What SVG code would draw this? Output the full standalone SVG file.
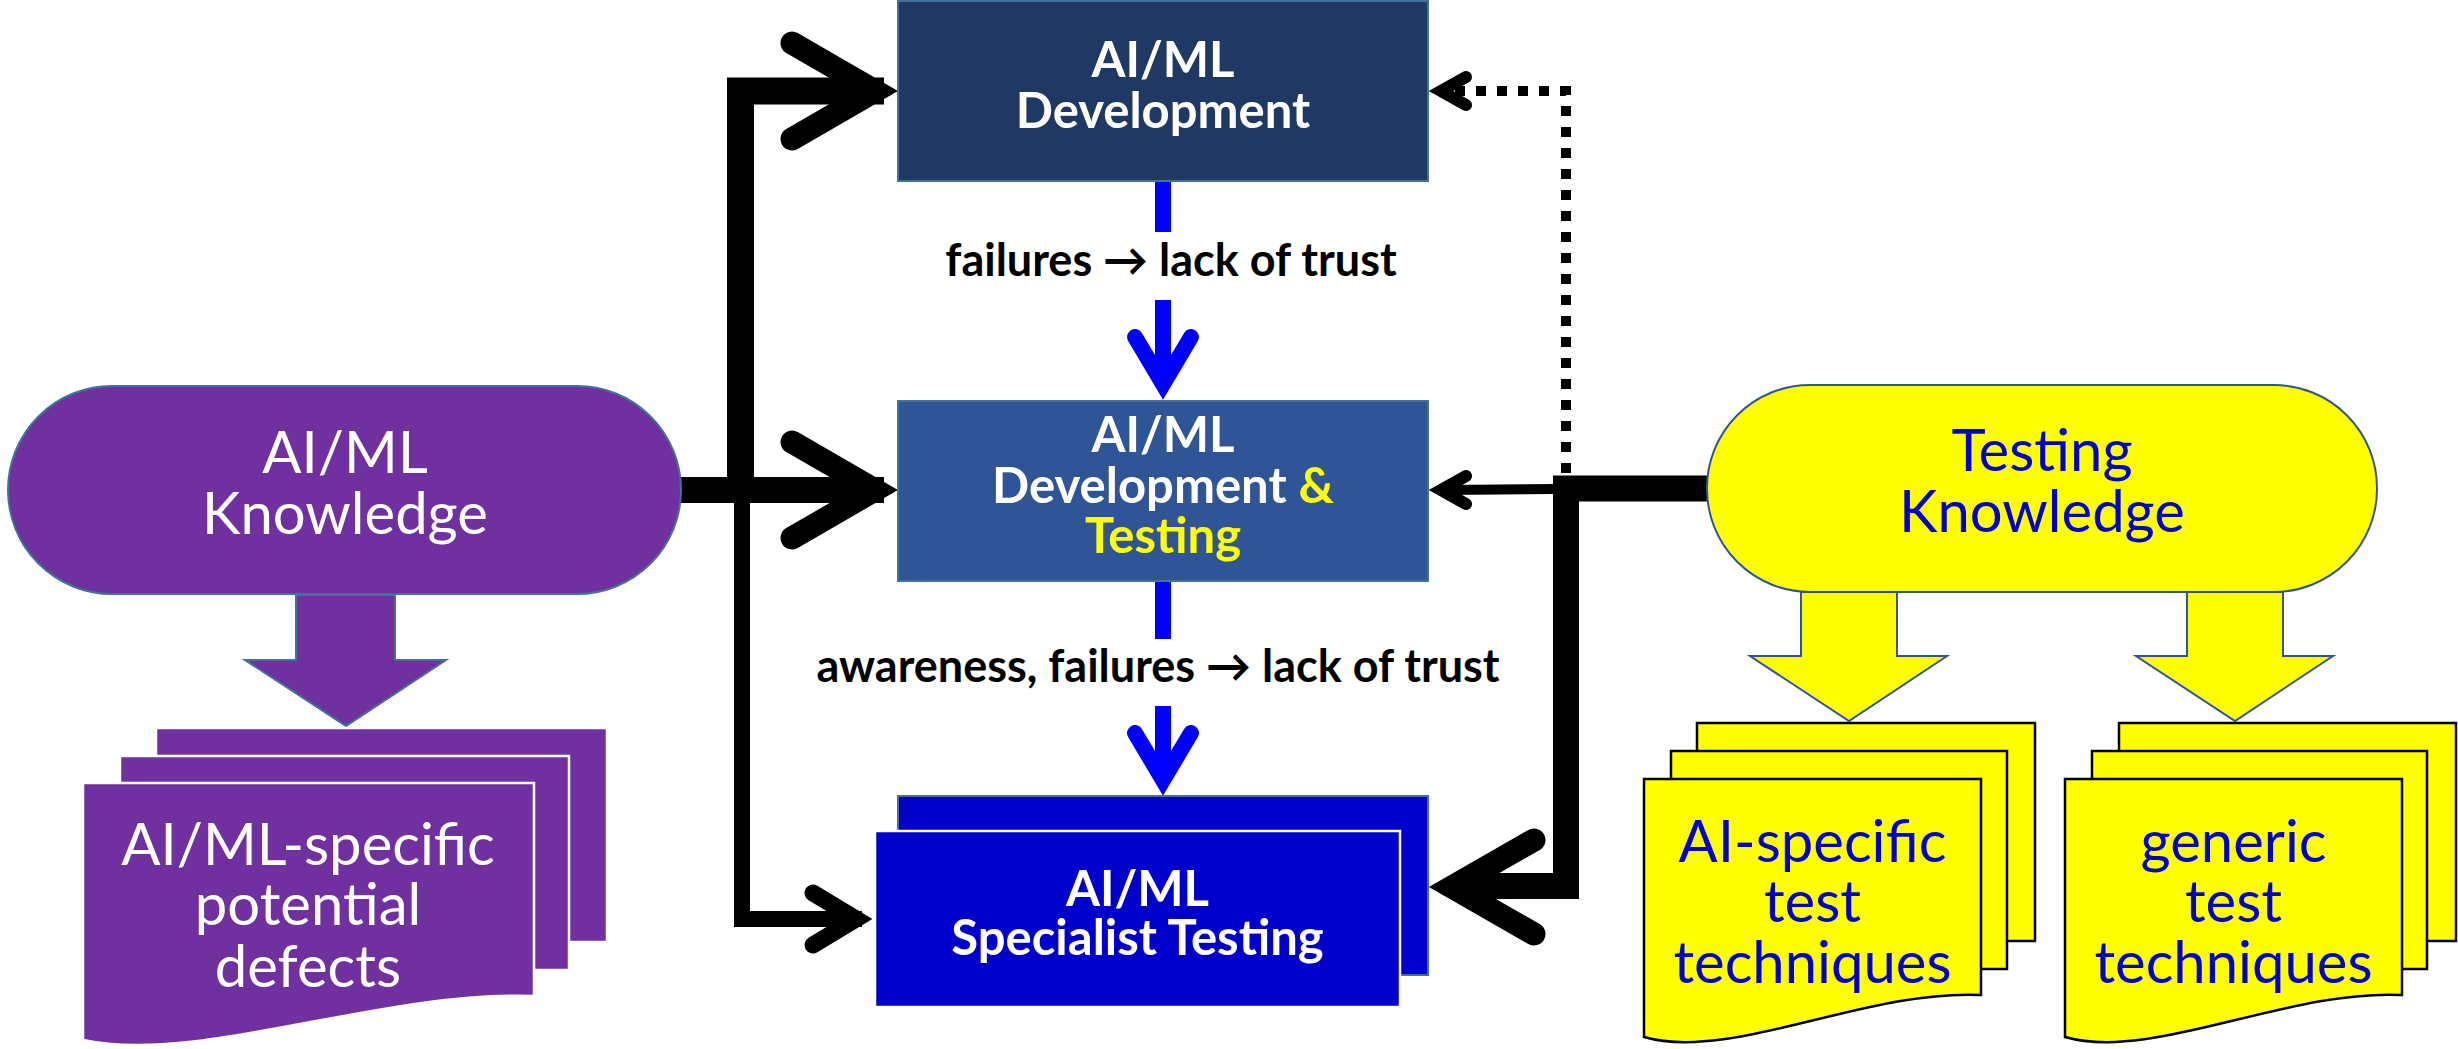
<svg xmlns="http://www.w3.org/2000/svg" width="2458" height="1049" viewBox="0 0 2458 1049">
  <style>
    text { font-family: Lato, "DejaVu Sans", sans-serif; text-anchor: middle; }
    .reg { font-size: 58px; }
    .boxlbl { font-size: 49px; font-weight: bold; fill: #ffffff; }
    .edge { font-size: 45px; font-weight: bold; fill: #000000; }
    .wt { fill: #ffffff; }
    .bt { fill: #0000CC; }
    .hl { fill: #FFFF00; }
    .rim { stroke: #41719C; stroke-width: 2; }
    .purple { fill: #7030A0; }
    .yellow { fill: #FFFF00; }
    .ppage { fill: #7030A0; stroke: #ffffff; stroke-width: 2.5; }
    .ypage { fill: #FFFF00; stroke: #000000; stroke-width: 2.5; }
    .line { fill: none; stroke: #000000; stroke-linejoin: miter; stroke-miterlimit: 10; }
    .head { fill: none; stroke: #000000; stroke-linecap: round; stroke-linejoin: miter; stroke-miterlimit: 10; }
    .blue { fill: none; stroke: #0000FF; stroke-width: 16; }
    .bluehead { fill: none; stroke: #0000FF; stroke-width: 16; stroke-linecap: round; stroke-linejoin: miter; stroke-miterlimit: 10; }
  </style>

  <!-- connectors -->
  <g id="connectors">
    <!-- AI/ML Knowledge feeding the three activity boxes -->
    <path class="line" stroke-width="26" d="M680 490 H884"/>
    <path class="line" stroke-width="27" d="M740.5 490 V91 H884"/>
    <path class="line" stroke-width="16" d="M742 490 V919 H862"/>
    <polyline class="head" stroke-width="23" points="792,43 875,91 792,139"/>
    <polyline class="head" stroke-width="23" points="792,442 875,490 792,538"/>
    <polyline class="head" stroke-width="17" points="813,893 856,919 813,945"/>

    <!-- Testing Knowledge feeding the boxes -->
    <path class="line" stroke-width="26" d="M1707 488.5 H1566 V886 H1460"/>
    <polyline class="head" stroke-width="23" points="1534,840 1452,887 1534,934"/>
    <path class="line" stroke-width="10" d="M1553 489 L1446 490"/>
    <polyline class="head" stroke-width="12" points="1466,476 1441,490 1466,504"/>
    <!-- dotted feedback to AI/ML Development -->
    <path class="line" stroke-width="10" stroke-dasharray="10 11" d="M1566 473 V91 H1444"/>
    <polyline class="head" stroke-width="12" points="1466,77 1441,91 1466,105"/>

    <!-- blue dashed flows between the activity boxes -->
    <path class="blue" d="M1163 181 V232 M1163 300 V386"/>
    <polyline class="bluehead" points="1135,337 1163,384 1191,337"/>
    <path class="blue" d="M1163 581 V639 M1163 706 V782"/>
    <polyline class="bluehead" points="1135,733 1163,780 1191,733"/>
  </g>

  <!-- edge labels -->
  <g id="labels">
    <text class="edge" x="1171" y="276">failures → lack of trust</text>
    <text class="edge" x="1158" y="682">awareness, failures → lack of trust</text>
  </g>

  <!-- AI/ML Knowledge -->
  <g id="aiml-knowledge">
    <rect class="purple rim" x="8" y="386" width="673" height="208" rx="104" ry="104"/>
    <text class="reg wt"><tspan x="345" y="473">AI/ML</tspan><tspan x="345" y="534">Knowledge</tspan></text>
  </g>

  <!-- block arrow to defects -->
  <g id="aiml-down-arrow">
    <polygon class="purple rim" points="296,595 395,595 395,660 446,660 346,726 245,660 296,660"/>
  </g>

  <!-- AI/ML-specific potential defects -->
  <g id="aiml-defects">
    <rect class="ppage" x="156" y="728" width="451" height="214"/>
    <rect class="ppage" x="120" y="756" width="449" height="214"/>
    <path class="ppage" d="M83 783 H534 V996 C380 990 200 1065 83 1040 Z"/>
    <text class="reg wt"><tspan x="308" y="865">AI/ML-specific</tspan><tspan x="308" y="925">potential</tspan><tspan x="308" y="987">defects</tspan></text>
  </g>

  <!-- AI/ML Development -->
  <g id="aiml-development">
    <rect class="rim" fill="#203864" x="898" y="1" width="530" height="180"/>
    <text class="boxlbl"><tspan x="1163" y="77">AI/ML</tspan><tspan x="1163" y="128">Development</tspan></text>
  </g>

  <!-- AI/ML Development & Testing -->
  <g id="aiml-dev-testing">
    <rect class="rim" fill="#2F5597" x="898" y="401" width="530" height="180"/>
    <text class="boxlbl"><tspan x="1163" y="452">AI/ML</tspan><tspan x="1163" y="503">Development <tspan class="hl">&amp;</tspan></tspan><tspan class="hl" x="1163" y="553">Testing</tspan></text>
  </g>

  <!-- AI/ML Specialist Testing -->
  <g id="aiml-specialist">
    <rect class="rim" fill="#0000CC" x="898" y="796" width="530" height="179"/>
    <rect fill="#0000CC" stroke="#ffffff" stroke-width="2.5" x="875" y="831" width="525" height="176"/>
    <text class="boxlbl"><tspan x="1137.5" y="906">AI/ML</tspan><tspan x="1137.5" y="955">Specialist Testing</tspan></text>
  </g>

  <!-- Testing Knowledge -->
  <g id="testing-knowledge">
    <rect class="yellow" stroke="#2F5597" stroke-width="2" x="1707" y="385" width="670" height="207" rx="103" ry="103"/>
    <text class="reg bt"><tspan x="2042" y="471">Testing</tspan><tspan x="2042" y="532">Knowledge</tspan></text>
  </g>

  <!-- block arrows to technique sets -->
  <g id="testing-down-arrows">
    <polygon class="yellow" stroke="#2F5597" stroke-width="2" points="1801,592 1897,592 1897,656 1947,656 1849,721 1750,656 1801,656"/>
    <polygon class="yellow" stroke="#2F5597" stroke-width="2" points="2187,592 2283,592 2283,656 2333,656 2235,721 2136,656 2187,656"/>
  </g>

  <!-- AI-specific test techniques -->
  <g id="ai-specific-techniques">
    <rect class="ypage" x="1697" y="723" width="338" height="218"/>
    <rect class="ypage" x="1671" y="751" width="336" height="218"/>
    <path class="ypage" d="M1644 779 H1981 V995 C1866 989 1731 1062 1644 1037 Z"/>
    <text class="reg bt"><tspan x="1812.5" y="862">AI-specific</tspan><tspan x="1812.5" y="922">test</tspan><tspan x="1812.5" y="983">techniques</tspan></text>
  </g>

  <!-- generic test techniques -->
  <g id="generic-techniques">
    <rect class="ypage" x="2119" y="723" width="337" height="218"/>
    <rect class="ypage" x="2092" y="751" width="335" height="218"/>
    <path class="ypage" d="M2065 779 H2402 V995 C2287 989 2152 1062 2065 1037 Z"/>
    <text class="reg bt"><tspan x="2233.5" y="862">generic</tspan><tspan x="2233.5" y="922">test</tspan><tspan x="2233.5" y="983">techniques</tspan></text>
  </g>
</svg>
